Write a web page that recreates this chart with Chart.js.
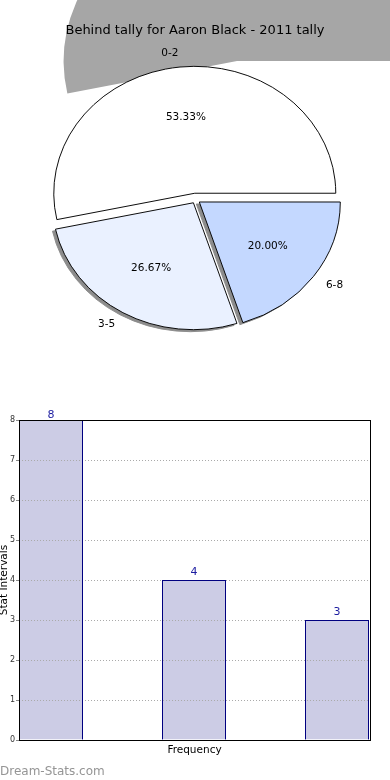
<!DOCTYPE html>
<html>
<head>
<meta charset="utf-8">
<script src="https://cdn.jsdelivr.net/npm/chart.js@4.4.1/dist/chart.umd.min.js"></script>
<style>
  html, body { margin: 0; padding: 0; background: #fff; }
  #wrap { position: relative; width: 390px; height: 780px; overflow: hidden; }
  #pie { position: absolute; left: 0; top: 0; }
  #bar { position: absolute; left: 0; top: 380px; }
</style>
</head>
<body>
<div id="wrap">
  <canvas id="pie" width="390" height="380"></canvas>
  <canvas id="bar" width="390" height="400"></canvas>
</div>
<script>
// DATA
var chartTitle = 'Behind tally for Aaron Black - 2011 tally';
var categories = ['0-2', '3-5', '6-8'];
var counts = [8, 4, 3];
var yTickMax = 8;

// pie styling (same order as categories)
var sliceColors = ['#ffffff', '#eaf1ff', '#c4d8ff'];
var slicePush = [7, 4.2, 4.7];      // how far each slice is pulled out, px
var SQUASH = 0.9;                   // pie is drawn a bit flat

// pie goes round counter-clockwise from 3 o'clock, so feed it reversed
var order = [2, 1, 0];
var total = counts.reduce(function (a, b) { return a + b; }, 0);

var pieLook = {
    id: 'pieLook',
    beforeDatasetsDraw: function (chart) {
        var ctx = chart.ctx;
        var arcs = chart.getDatasetMeta(0).data;
        var cx = arcs[0].x, cy = arcs[0].y, r = arcs[0].outerRadius;
        var big = arcs[2];

        // pull slices out without the radius growing (built-in offset does that)
        arcs.forEach(function (el, j) {
            if (el.pushed) return;
            var push = slicePush[order[j]];
            var plain = el.draw;
            el.draw = function (c) {
                var mid = (this.startAngle + this.endAngle) / 2;
                c.save();
                c.translate(Math.cos(mid) * push, Math.sin(mid) * push);
                plain.call(this, c);
                c.restore();
            };
            el.pushed = true;
        });

        // stray shadow of the big slice, up and to the right
        ctx.save();
        ctx.fillStyle = '#a6a6a6';
        var sx = cx + 41.5, sy = cy - 138.5, k = 1.23;
        ctx.beginPath();
        ctx.moveTo(sx, sy);
        ctx.ellipse(sx, sy, r * k, r * SQUASH * k, 0, big.startAngle, big.endAngle);
        ctx.closePath();
        ctx.fill();
        ctx.restore();

        // flatten the pie
        ctx.save();
        ctx.translate(cx, cy);
        ctx.scale(1, SQUASH);
        ctx.translate(-cx, -cy);

        // small shadows under the two smaller slices
        [0, 1].forEach(function (i) {
            var el = arcs[i];
            var orig = el.options;
            el.options = Object.assign({}, orig, { backgroundColor: '#8c8c8c', borderColor: '#8c8c8c' });
            ctx.save();
            ctx.translate(-3, 2 / SQUASH);
            el.draw(ctx);
            ctx.restore();
            el.options = orig;
        });
    },
    afterDatasetsDraw: function (chart) {
        var ctx = chart.ctx;
        ctx.restore();
        var arcs = chart.getDatasetMeta(0).data;
        ctx.save();
        ctx.fillStyle = '#000';
        ctx.font = '10.5px "DejaVu Sans"';
        ctx.textBaseline = 'middle';
        arcs.forEach(function (el, j) {
            var i = order[j];
            var mid = (el.startAngle + el.endAngle) / 2;
            var push = slicePush[i];
            var c = Math.cos(mid), s = Math.sin(mid);
            var pr = push + 0.6 * el.outerRadius;
            ctx.textAlign = 'center';
            ctx.fillText((counts[i] / total * 100).toFixed(2) + '%', el.x + c * pr, el.y + s * pr * SQUASH);
            var lr = push + 1.11 * el.outerRadius;
            ctx.textAlign = c < 0 ? 'right' : 'left';
            ctx.fillText(categories[i], el.x + c * lr, el.y + s * lr * SQUASH);
        });
        ctx.restore();
    },
    afterDraw: function (chart) {
        var ctx = chart.ctx;
        ctx.save();
        ctx.fillStyle = '#000';
        ctx.font = '13px "DejaVu Sans"';
        ctx.textAlign = 'center';
        ctx.textBaseline = 'middle';
        ctx.fillText(chartTitle, 195, 31);
        ctx.restore();
    }
};

var pieChart = new Chart(document.getElementById('pie'), {
    type: 'pie',
    data: {
        labels: order.map(function (i) { return categories[i]; }),
        datasets: [{
            data: order.map(function (i) { return counts[i]; }),
            backgroundColor: order.map(function (i) { return sliceColors[i]; }),
            borderColor: '#000',
            borderWidth: 1,
            radius: 141
        }]
    },
    options: {
        responsive: false,
        animation: false,
        rotation: 90,
        layout: { padding: { top: 19, left: 1, right: 0, bottom: 0 } },
        plugins: { legend: { display: false }, tooltip: { enabled: false } }
    },
    plugins: [pieLook]
});

var barLook = {
    id: 'barLook',
    afterDraw: function (chart) {
        var ctx = chart.ctx;
        var a = chart.chartArea;
        var bars = chart.getDatasetMeta(0).data;
        ctx.save();

        // grid sits over the bars, but bar outlines stay on top of it
        bars.forEach(function (bar) {
            var orig = bar.options;
            bar.options = Object.assign({}, orig, { backgroundColor: 'rgba(0,0,0,0)' });
            bar.draw(ctx);
            bar.options = orig;
        });

        ctx.strokeStyle = '#000';
        ctx.lineWidth = 1;
        ctx.strokeRect(Math.round(a.left) + 0.5, Math.round(a.top) + 0.5,
            Math.round(a.right) - Math.round(a.left), Math.round(a.bottom) - Math.round(a.top));

        // value on top of each bar
        ctx.fillStyle = '#1c1ca0';
        ctx.font = '11px "DejaVu Sans"';
        ctx.textAlign = 'center';
        ctx.textBaseline = 'alphabetic';
        bars.forEach(function (bar, i) {
            ctx.fillText(String(counts[i]), bar.x, Math.max(bar.y - 5, 38));
        });

        // axis titles
        ctx.fillStyle = '#000';
        ctx.font = '10.5px "DejaVu Sans"';
        ctx.fillText('Frequency', (a.left + a.right) / 2, 373);
        ctx.save();
        ctx.translate(6.5, (a.top + a.bottom) / 2);
        ctx.rotate(-Math.PI / 2);
        ctx.fillText('Stat Intervals', 0, 0);
        ctx.restore();

        // watermark
        ctx.fillStyle = '#959595';
        ctx.font = '12px "DejaVu Sans"';
        ctx.textAlign = 'left';
        ctx.fillText('Dream-Stats.com', 0, 395);
        ctx.restore();
    }
};

var barChart = new Chart(document.getElementById('bar'), {
    type: 'bar',
    data: {
        datasets: [{
            data: categories.map(function (c, i) { return { x: i, y: counts[i] }; }),
            backgroundColor: '#ccccE5',
            borderColor: '#000080',
            borderWidth: 1,
            inflateAmount: 0,
            barThickness: 64
        }]
    },
    options: {
        responsive: false,
        animation: false,
        layout: { padding: { top: 40, right: 20, bottom: 40, left: 0 } },
        plugins: { legend: { display: false }, tooltip: { enabled: false } },
        scales: {
            // 143 px between bars, outer bars touch the frame
            x: { type: 'linear', display: false, offset: false, min: -32 / 143, max: 2 + 33 / 143 },
            y: {
                min: 0,
                max: yTickMax,
                ticks: { stepSize: 1, padding: 1, color: '#333', font: { family: 'DejaVu Sans', size: 8 } },
                grid: { z: 1, color: '#aaaaaa', tickLength: 3, tickColor: '#888' },
                border: { display: false, dash: [1, 2] },
                afterFit: function (scale) { scale.width = 19; }
            }
        }
    },
    plugins: [barLook]
});
</script>
</body>
</html>
